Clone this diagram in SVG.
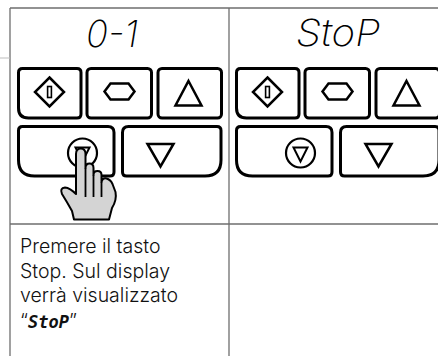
<svg xmlns="http://www.w3.org/2000/svg" width="438" height="356" viewBox="0 0 438 356">
  <style>
    .grid { stroke: #6e6e6e; stroke-width: 1.3; fill: none; }
    .btn { fill: #ffffff; stroke: #000000; stroke-width: 3; }
    .ico { fill: none; stroke: #000000; stroke-width: 2.5; stroke-linejoin: miter; }
    .thin { fill: none; stroke: #000000; stroke-width: 2; }
    .lcd { font-family: Inter, "Open Sans", "DejaVu Sans", sans-serif; font-weight: 200; font-style: oblique; font-size: 37px; fill: #000000; }
    .body { font-family: Inter, "Liberation Sans", sans-serif; font-weight: 300; font-size: 19.5px; fill: #111111; }
    .lcdsmall { font-family: "DejaVu Sans Mono", monospace; font-style: oblique; font-weight: bold; font-size: 17px; }
    .hand { fill: #d4d4d4; stroke: #000000; stroke-width: 2; stroke-linejoin: round; }
  </style>

  <defs>
    <!-- one keypad: two rows of keys with their symbols -->
    <g id="keypad">
      <!-- top row -->
      <path class="btn" d="M22.5,68.5 H77 Q81,68.5 81,72.5 V114 Q81,118 77,118 H28.5 Q18.5,118 18.5,108 V72.5 Q18.5,68.5 22.5,68.5 Z"/>
      <rect class="btn" x="87" y="68.5" width="64.5" height="49.5" rx="4"/>
      <rect class="btn" x="158" y="68.5" width="63.5" height="49.5" rx="4"/>
      <!-- bottom row -->
      <path class="btn" d="M22.5,126.5 H108 Q114,126.5 114,132.5 V172 Q114,176 110,176 H34.5 Q18.5,176 18.5,160 V130.5 Q18.5,126.5 22.5,126.5 Z"/>
      <path class="btn" d="M128.5,126.5 H217 Q221,126.5 221,130.5 V160 Q221,176 205,176 H126.5 Q122.5,176 122.5,172 V132.5 Q122.5,126.5 128.5,126.5 Z"/>
      <!-- start key: diamond with bar -->
      <polygon class="ico" points="49.5,77.5 64,92 49.5,106.5 35,92"/>
      <rect x="47.6" y="86.5" width="3.8" height="11" fill="none" stroke="#000" stroke-width="1.6"/>
      <!-- enter key: hexagon -->
      <polygon class="ico" points="104.5,91.5 110.5,83.5 128.5,83.5 134.5,91.5 128.5,99.5 110.5,99.5"/>
      <!-- up key -->
      <polygon class="ico" points="188.5,81 201.5,105.5 175.5,105.5"/>
      <!-- stop key: circle with down triangle -->
      <circle cx="82.5" cy="153" r="14.5" fill="#fff" stroke="#000" stroke-width="2.2"/>
      <polygon class="thin" points="75.5,147.5 89.5,147.5 82.5,161.5"/>
      <!-- down key -->
      <polygon class="ico" points="147.5,144 173.5,144 160.5,166.5"/>
    </g>
  </defs>

  <rect width="438" height="356" fill="#ffffff"/>

  <!-- table rules -->
  <g id="grid">
    <line class="grid" x1="10" y1="8" x2="438" y2="8"/>
    <line class="grid" x1="10" y1="8" x2="10" y2="356"/>
    <line class="grid" x1="229" y1="8" x2="229" y2="356"/>
    <line class="grid" x1="10" y1="224" x2="438" y2="224"/>
    <line x1="0" y1="58" x2="10" y2="58" stroke="#bdbdbd" stroke-width="1"/>
  </g>

  <!-- left cell: display "0-1" and keypad being pressed -->
  <g id="panel-left">
    <text class="lcd" x="86" y="47" textLength="52" lengthAdjust="spacingAndGlyphs">0-1</text>
    <use href="#keypad"/>
  </g>

  <!-- right cell: display "StoP" and keypad -->
  <g id="panel-right">
    <text class="lcd" x="296" y="46" textLength="84" lengthAdjust="spacingAndGlyphs">StoP</text>
    <use href="#keypad" x="218"/>
  </g>

  <!-- pressing hand -->
  <g id="hand">
    <path class="hand" d="M76,154 Q76,148.5 80.75,148.5 Q85.5,148.5 85.5,154 L85.5,168
      Q85.5,163.5 89.5,163.5 Q93.5,163.5 93.5,168 L93.5,175
      Q93.5,171 97.5,171 Q101.5,171 101.5,175 L101.5,182
      Q102.5,177.5 106.5,178.5 Q110.5,179.5 112.5,184 L115.5,192
      Q117,200 112,208 L109,219.5 L74,219.5 L72,211
      Q67,202 62,194 Q59.5,188 65,187.5 Q70,188 76,194 Z"/>
    <path fill="none" stroke="#000" stroke-width="1.8" d="M85.5,168 V197 M93.5,175 V197 M101.5,182 V197"/>
  </g>

  <!-- description -->
  <g id="caption">
    <text class="body" x="20" y="253">Premere il tasto</text>
    <text class="body" x="20" y="277.5">Stop. Sul display</text>
    <text class="body" x="20" y="302">verrà visualizzato</text>
    <text class="body" x="20" y="328">“<tspan class="lcdsmall">StoP</tspan>”</text>
  </g>
</svg>
